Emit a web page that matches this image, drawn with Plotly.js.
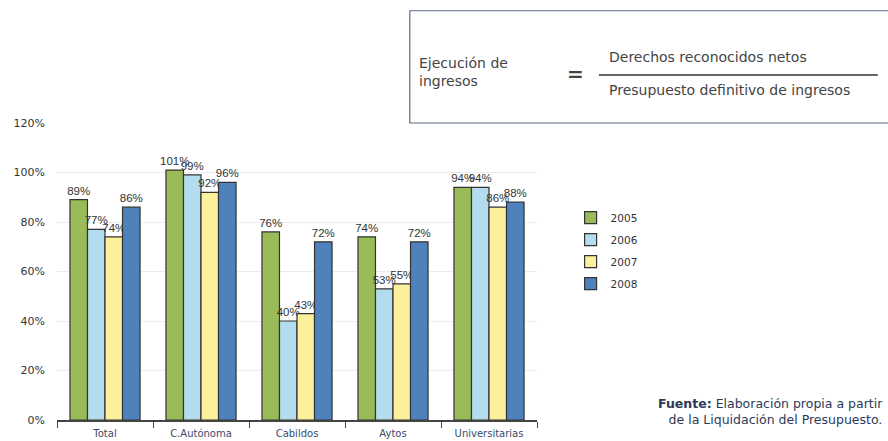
<!DOCTYPE html>
<html><head><meta charset="utf-8">
<script src="https://cdn.plot.ly/plotly-3.0.1.min.js"></script>
<style>html,body{margin:0;padding:0;background:#fff}#chart{width:888px;height:441px}</style>
</head><body><div id="chart"></div>
<script>
const categories = ["Total", "C.Autónoma", "Cabildos", "Aytos", "Universitarias"];
const years = ["2005", "2006", "2007", "2008"];
const v2005 = [89, 101, 76, 74, 94];
const v2006 = [77, 99, 40, 53, 94];
const v2007 = [74, 92, 43, 55, 86];
const v2008 = [86, 96, 72, 72, 88];
const colors = ["#9BBB59", "#B3DDEE", "#FBF09C", "#4F81BD"];
const yTicks = [0, 20, 40, 60, 80, 100, 120];

const F = "DejaVu Sans, Verdana, sans-serif";
const FL = "Liberation Sans, Arial, sans-serif";
const series = [v2005, v2006, v2007, v2008];
const traces = series.map((vals, i) => ({
  type: "bar", name: years[i], legendgroup: years[i], x: categories, y: vals.map(v => v / 100),
  text: vals.map(v => v + "%"), textposition: "outside", cliponaxis: false, constraintext: "none",
  textfont: {family: FL, size: 11.5, color: "#333"},
  marker: {color: colors[i], line: {color: "#333", width: 1.2}},
  hoverinfo: "none"
}));

const layout = {
  width: 888, height: 441,
  margin: {l: 57, r: 351, t: 123, b: 21},
  paper_bgcolor: "#fff", plot_bgcolor: "#fff",
  barmode: "group", bargap: 0.27, bargroupgap: 0,
  showlegend: true,
  legend: {x: 1.07, y: 0.73, xanchor: "left", yanchor: "top", tracegroupgap: 3,
    font: {family: F, size: 10.5, color: "#333"},
    itemwidth: 30, bgcolor: "rgba(0,0,0,0)"},
  xaxis: {showline: true, linecolor: "#444", linewidth: 1.5, ticks: "outside", tickson: "boundaries",
    ticklen: 6, tickcolor: "#444", showgrid: false, ticklabelstandoff: 3,
    tickfont: {family: F, size: 10, color: "#3a4a6a"}},
  yaxis: {range: [0, 1.2], tickvals: yTicks.map(t => t / 100), ticktext: yTicks.map(t => t + "%"),
    showgrid: true, gridcolor: "#ececec", zeroline: false, showline: false,
    tickfont: {family: F, size: 11, color: "#333"}, ticklabelstandoff: 11},
  shapes: [
    {type: "rect", xref: "paper", yref: "paper", x0: 0.735, x1: 1.75, y0: 1.0, y1: 1.378,
      line: {color: "#5a6a85", width: 1.2}, fillcolor: "rgba(0,0,0,0)"},
    {type: "line", xref: "paper", yref: "paper", x0: 1.129, x1: 1.71, y0: 1.162, y1: 1.162,
      line: {color: "#333", width: 1.5}}
  ],
  annotations: [
    {xref: "paper", yref: "paper", x: 0.75, y: 1.172, xanchor: "left", yanchor: "middle", align: "left",
      text: "Ejecución de<br>ingresos", showarrow: false,
      font: {family: F, size: 14, color: "#444"}},
    {xref: "paper", yref: "paper", x: 1.08, y: 1.165, xanchor: "center", yanchor: "middle",
      text: "<b>=</b>", showarrow: false,
      font: {family: F, size: 20, color: "#444"}},
    {xref: "paper", yref: "paper", x: 1.145, y: 1.222, xanchor: "left", yanchor: "middle",
      text: "Derechos reconocidos netos", showarrow: false,
      font: {family: F, size: 14, color: "#444"}},
    {xref: "paper", yref: "paper", x: 1.145, y: 1.11, xanchor: "left", yanchor: "middle",
      text: "Presupuesto definitivo de ingresos", showarrow: false,
      font: {family: F, size: 14, color: "#444"}},
    {xref: "paper", yref: "paper", x: 1.725, y: 0.03, xanchor: "right", yanchor: "middle", align: "right",
      text: "<b>Fuente:</b> Elaboración propia a partir<br>de la Liquidación del Presupuesto.", showarrow: false,
      font: {family: F, size: 12.5, color: "#2c3a58"}}
  ]
};
Plotly.newPlot("chart", traces, layout, {displayModeBar: false, staticPlot: true});
</script></body></html>
